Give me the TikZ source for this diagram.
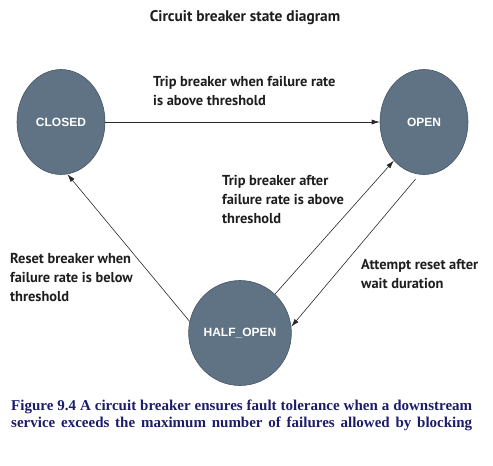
\documentclass[tikz,border=0pt]{standalone}
\usepackage{fontspec}
\setmainfont{Liberation Serif}
\newfontfamily\lblfont{PT Sans}
\newfontfamily\nodefont{Liberation Sans}
\usetikzlibrary{arrows.meta,shapes.geometric}
\definecolor{statefill}{RGB}{96,115,132}
\definecolor{stateborder}{RGB}{72,86,100}
\definecolor{captioncol}{RGB}{28,28,107}
\definecolor{linecol}{RGB}{40,40,40}
\definecolor{lblcol}{RGB}{30,30,30}
\begin{document}
\begin{tikzpicture}[x=1pt,y=-1pt,
  state/.style={ellipse, fill=statefill, draw=stateborder, line width=0.6pt,
    minimum width=88pt, minimum height=105pt, inner sep=0pt, text=white,
    font=\nodefont\bfseries\fontsize{12}{14}\selectfont},
  lbl/.style={align=left, anchor=north west, inner sep=0pt, text=lblcol,
    font=\lblfont\bfseries\fontsize{14.4}{19}\selectfont},
  conn/.style={draw=linecol, line width=0.6pt, -{Latex[length=8pt,width=5pt]}}]
\useasboundingbox (0,0) rectangle (493,466);

\node[lbl, anchor=center, font=\lblfont\bfseries\fontsize{15.4}{18}\selectfont] (title) at (245,18) {Circuit breaker state diagram};

\node[state] (closed) at (61,122) {CLOSED};
\node[state] (open) at (424,122) {OPEN};
\node[state] (half) at (240,333) {HALF\_OPEN};

\draw[conn] (closed.east) -- (open.west);
\draw[conn] (half.167) -- (closed.-83);
\draw[conn] (half.48) -- (open.232);
\draw[conn, shorten <=6pt] (open.265) -- (half.7);

\node[lbl] (l1) at (153,76) {Trip breaker when failure rate\\is above threshold};
\node[lbl] (l2) at (222,175) {Trip breaker after\\failure rate is above\\threshold};
\node[lbl] (l3) at (10,253) {Reset breaker when\\failure rate is below\\threshold};
\node[lbl] (l4) at (361,259) {Attempt reset after\\wait duration};

\node[anchor=north west, inner sep=0pt, text=captioncol, align=left,
  font=\bfseries\fontsize{15}{17}\selectfont] (cap) at (11,400)
  {\makebox[461pt][s]{Figure 9.4 A circuit breaker ensures fault tolerance when a downstream}\\
   \makebox[461pt][s]{service exceeds the maximum number of failures allowed by blocking}};
\end{tikzpicture}
\end{document}
